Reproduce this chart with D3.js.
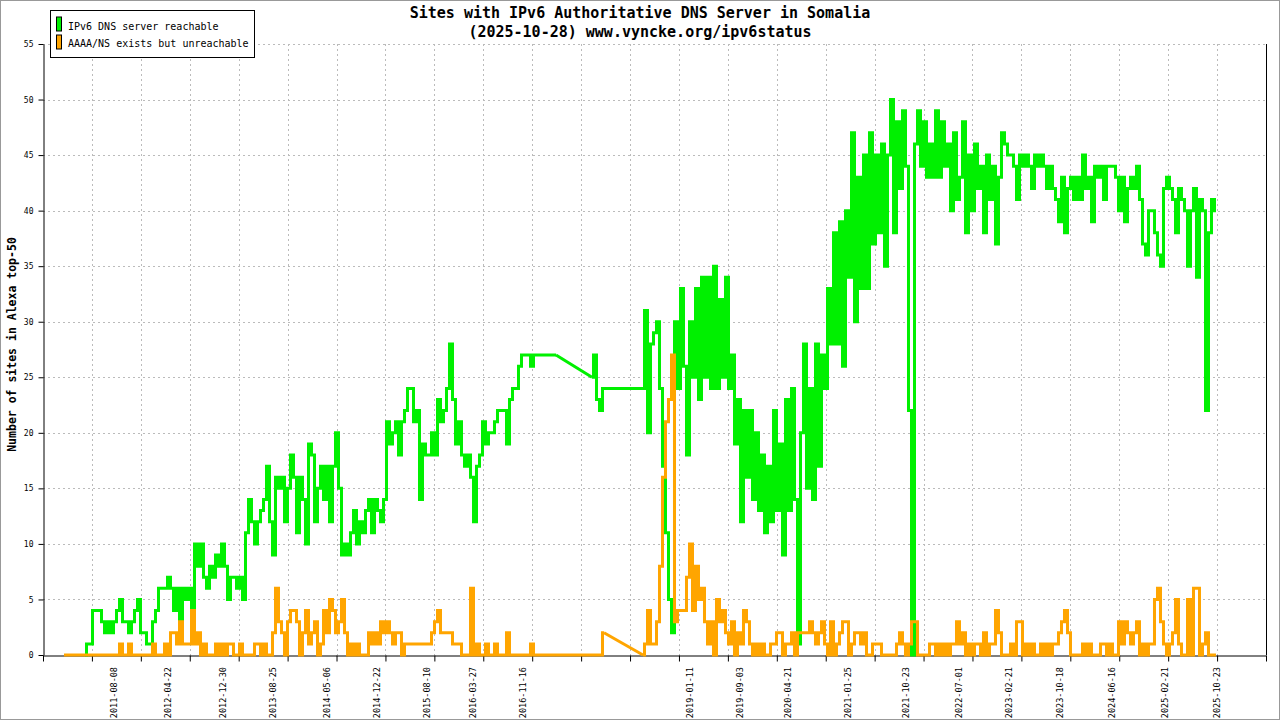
<!DOCTYPE html>
<html>
<head>
<meta charset="utf-8">
<script src="https://cdn.jsdelivr.net/npm/d3@7.9.0/dist/d3.min.js"></script>
<style>
  html, body { margin: 0; padding: 0; background: #fff; }
  svg { display: block; }
  text { font-family: "DejaVu Sans Mono", monospace; fill: #000; }
</style>
</head>
<body>
<svg id="chart" width="1280" height="720"></svg>
<script>
/******************************************************
 * Data (one sample per step, null = no sample -> line joins across)
 ******************************************************/
const titleLines = [
  "Sites with IPv6 Authoritative DNS Server in Somalia",
  "(2025-10-28) www.vyncke.org/ipv6status"
];
const yLabel = "Number of sites in Alexa top-50";
const seriesNames = ["IPv6 DNS server reachable", "AAAA/NS exists but unreachable"];
const seriesColors = ["#00f000", "#ffa500"];

// IPv6 DNS server reachable
const reachable = [
  null,null,null,null,null,null,null,0,1,1,           // 0
  4,4,4,3,2,3,2,3,4,5,                                // 10
  3,3,2,3,4,5,2,2,1,1,                                // 20
  3,4,6,6,6,7,6,4,6,3,                                // 30
  6,5,6,4,10,8,10,7,6,8,                              // 40
  7,9,8,10,8,5,7,7,6,7,                               // 50
  5,11,14,12,10,12,13,14,17,12,                       // 60
  9,16,15,16,12,15,18,16,11,16,                       // 70
  14,10,19,18,12,15,17,14,17,12,                      // 80
  17,20,15,9,10,9,11,13,10,12,                        // 90
  11,13,14,11,14,13,12,14,21,19,                      // 100
  20,21,18,21,22,24,24,21,22,14,                      // 110
  19,18,18,20,18,23,21,22,24,28,                      // 120
  23,19,21,18,17,18,16,12,17,18,                      // 130
  21,19,20,20,21,22,22,22,19,23,                      // 140
  24,24,26,27,27,27,26,27,27,27,                      // 150
  27,27,27,27,27,null,null,null,null,null,            // 160
  null,null,null,null,null,null,25,27,23,22,          // 170
  24,null,null,null,null,null,null,null,null,null,    // 180
  null,null,null,24,31,20,28,29,30,24,                // 190
  17,11,5,2,30,24,33,26,18,30,                        // 200
  25,33,23,34,25,34,24,35,24,32,                      // 210
  25,34,24,27,19,23,12,22,16,22,                      // 220
  14,20,13,18,11,17,12,22,13,19,                      // 230
  9,23,13,24,14,1,20,28,15,24,                        // 240
  14,28,17,27,24,33,28,38,28,39,                      // 250
  26,40,34,47,30,43,33,45,33,47,                      // 260
  37,45,38,46,35,45,50,38,48,42,                      // 270
  49,44,22,0,46,49,44,48,43,46,                       // 280
  43,49,43,48,44,46,40,47,41,43,                      // 290
  48,38,45,40,46,42,44,38,45,41,                      // 300
  44,37,43,47,46,45,45,44,41,45,                      // 310
  44,45,44,42,45,44,45,44,42,44,                      // 320
  42,41,39,43,38,42,43,41,43,41,                      // 330
  45,42,43,39,44,43,44,41,44,44,                      // 340
  44,43,40,43,39,42,43,42,44,41,                      // 350
  37,36,40,40,38,36,35,42,43,42,                      // 360
  41,38,42,41,40,35,40,42,34,41,                      // 370
  40,22,38,41,40                                      // 380
];

// AAAA/NS exists but unreachable
const unreachable = [
  0,0,0,0,0,0,0,0,0,0,                                // 0
  0,0,0,0,0,0,0,0,0,1,                                // 10
  0,0,1,0,0,0,0,0,0,0,                                // 20
  1,0,0,0,1,0,2,2,1,3,                                // 30
  1,1,1,4,1,2,0,1,0,0,                                // 40
  0,1,0,1,0,1,1,0,0,1,                                // 50
  0,0,0,0,1,1,0,1,0,0,                                // 60
  2,6,3,2,0,3,4,4,3,0,                                // 70
  2,4,1,2,3,0,1,4,2,5,                                // 80
  4,2,3,5,2,0,1,0,1,0,                                // 90
  0,0,2,1,2,1,3,2,3,2,                                // 100
  1,2,2,0,1,1,1,1,1,1,                                // 110
  1,1,1,2,3,4,2,2,2,2,                                // 120
  1,1,1,0,0,0,6,0,1,0,                                // 130
  0,1,0,0,1,0,0,0,2,0,                                // 140
  0,0,0,0,0,0,1,0,0,0,                                // 150
  0,0,0,0,0,null,null,null,null,null,                 // 160
  null,null,null,null,null,null,0,0,0,0,              // 170
  2,null,null,null,null,null,null,null,null,null,     // 180
  null,null,null,0,1,4,1,1,3,8,                       // 190
  16,21,23,27,3,4,4,4,7,10,                           // 200
  4,8,5,6,3,1,3,0,5,3,                                // 210
  4,2,1,3,0,2,1,4,3,1,                                // 220
  0,1,0,1,0,0,1,1,2,2,                                // 230
  0,1,1,2,0,2,2,2,2,3,                                // 240
  2,1,2,3,1,0,3,0,1,2,                                // 250
  3,3,0,1,2,2,1,2,0,0,                                // 260
  1,1,1,0,0,0,0,0,1,2,                                // 270
  1,0,1,3,3,0,0,0,0,1,                                // 280
  1,0,1,0,1,0,1,1,3,1,                                // 290
  2,0,1,0,1,1,0,2,0,1,                                // 300
  1,4,2,0,0,0,1,0,3,3,                                // 310
  0,1,0,1,0,0,1,0,1,0,                                // 320
  1,1,2,3,4,2,0,0,0,0,                                // 330
  1,0,1,0,0,0,1,1,0,1,                                // 340
  0,0,3,1,3,2,1,2,3,0,                                // 350
  1,0,1,1,5,6,3,1,0,1,                                // 360
  2,5,1,0,0,5,0,6,6,0,                                // 370
  1,2,0,0,0                                           // 380
];

// date labels and the sample index they sit on
const dateLabels = [
  "2011-08-08","2012-04-22","2012-12-30","2013-08-25","2014-05-06",
  "2014-12-22","2015-08-10","2016-03-27","2016-11-16","2019-01-11",
  "2019-09-03","2020-04-21","2021-01-25","2021-10-23","2022-07-01",
  "2023-02-21","2023-10-18","2024-06-16","2025-02-21","2025-10-23"
];
const dateLabelIndex = [
  16.7, 34.7, 53, 69.7, 87.7,
  104.3, 121, 136.3, 153, 208.7,
  225.3, 241.3, 261.3, 280.7, 298.3,
  315, 332, 349.3, 367, 384.3
];
const yTicks = [0, 5, 10, 15, 20, 25, 30, 35, 40, 45, 50, 55];
const xGridCount = 25;

/******************************************************
 * Layout
 ******************************************************/
const width = 1280, height = 720;
const margin = { top: 44, right: 14, bottom: 65, left: 43 };
const plotRight = width - margin.right;
const plotBottom = height - margin.bottom;

const svg = d3.select("#chart");

svg.append("rect")
  .attr("x", 0.5).attr("y", 0.5)
  .attr("width", width - 1).attr("height", height - 1)
  .attr("fill", "#fff")
  .attr("stroke", "#999");

const xScale = d3.scaleLinear()
  .domain([-7, 400.67])
  .range([margin.left, plotRight]);
const gridScale = d3.scaleLinear()
  .domain([0, xGridCount])
  .range(xScale.range());
const yScale = d3.scaleLinear()
  .domain([0, 55])
  .range([plotBottom, margin.top]);

// grid
const grid = svg.append("g")
  .attr("stroke", "#bbb")
  .attr("stroke-dasharray", "2,3")
  .attr("shape-rendering", "crispEdges");
grid.selectAll("line.hgrid")
  .data(yTicks.filter(d => d > 0))
  .enter()
  .append("line")
  .attr("class", "hgrid")
  .attr("x1", margin.left).attr("x2", plotRight)
  .attr("y1", d => Math.round(yScale(d)) + 0.5)
  .attr("y2", d => Math.round(yScale(d)) + 0.5);
grid.selectAll("line.vgrid")
  .data(d3.range(1, xGridCount))
  .enter()
  .append("line")
  .attr("class", "vgrid")
  .attr("x1", d => Math.round(gridScale(d)) + 0.5)
  .attr("x2", d => Math.round(gridScale(d)) + 0.5)
  .attr("y1", margin.top).attr("y2", plotBottom);

// Y-axis
const yAxis = svg.append("g")
  .attr("transform", `translate(${margin.left + 0.5},0)`)
  .call(d3.axisLeft(yScale).tickValues(yTicks).tickSize(5).tickSizeOuter(0).tickPadding(5));
yAxis.select(".domain").attr("stroke", "#000");
yAxis.selectAll("text").style("font-size", "8px").style("font-family", "DejaVu Sans Mono");

// X-axis: plain ticks, labels placed separately
const xAxis = svg.append("g")
  .attr("transform", `translate(0,${plotBottom + 0.5})`)
  .call(d3.axisBottom(gridScale).tickValues(d3.range(0, xGridCount + 1)).tickFormat("").tickSize(6).tickSizeOuter(0));
xAxis.select(".domain").attr("stroke", "#000");

svg.append("line")
  .attr("x1", plotRight + 0.5).attr("x2", plotRight + 0.5)
  .attr("y1", margin.top).attr("y2", plotBottom)
  .attr("stroke", "#000");

svg.append("g")
  .selectAll("text")
  .data(dateLabels)
  .enter()
  .append("text")
  .attr("transform", (d, i) => `translate(${xScale(dateLabelIndex[i])},${plotBottom + 12}) rotate(-90)`)
  .attr("text-anchor", "end")
  .attr("dy", "0.35em")
  .style("font-size", "8.5px")
  .text(d => d);

/******************************************************
 * Series: dense runs drawn as steps, missing stretches bridged straight
 ******************************************************/
const stepLine = d3.line()
  .x(d => xScale(d.i))
  .y(d => yScale(d.v))
  .curve(d3.curveStep);
const bridgeLine = d3.line()
  .x(d => xScale(d.i))
  .y(d => yScale(d.v));

function splitRuns(values) {
  const runs = [];
  let cur = [];
  values.forEach((v, i) => {
    if (v === null) {
      if (cur.length) runs.push(cur);
      cur = [];
    } else {
      cur.push({ i, v });
    }
  });
  if (cur.length) runs.push(cur);
  return runs;
}

[reachable, unreachable].forEach((values, k) => {
  const runs = splitRuns(values);
  const g = svg.append("g")
    .attr("fill", "none")
    .attr("stroke", seriesColors[k])
    .attr("stroke-width", 3);
  g.selectAll("path.run")
    .data(runs)
    .enter()
    .append("path")
    .attr("class", "run")
    .attr("d", stepLine);
  const bridges = d3.pairs(runs).map(([a, b]) => [a[a.length - 1], b[0]]);
  g.selectAll("path.bridge")
    .data(bridges)
    .enter()
    .append("path")
    .attr("class", "bridge")
    .attr("d", bridgeLine);
});

// title
svg.append("g")
  .selectAll("text")
  .data(titleLines)
  .enter()
  .append("text")
  .attr("x", width / 2)
  .attr("y", (d, i) => 18 + i * 19)
  .attr("text-anchor", "middle")
  .style("font-size", "15px")
  .style("font-weight", "bold")
  .text(d => d);

// y label
svg.append("text")
  .attr("transform", `translate(12,${(margin.top + plotBottom) / 2 - 5}) rotate(-90)`)
  .attr("text-anchor", "middle")
  .attr("dy", "0.35em")
  .style("font-size", "11.5px")
  .style("font-weight", "bold")
  .text(yLabel);

// Legend
const legend = svg.append("g").attr("transform", "translate(50.5,10.5)");
legend.append("rect")
  .attr("width", 204).attr("height", 47)
  .attr("fill", "#fff").attr("stroke", "#000");
seriesNames.forEach((name, k) => {
  legend.append("rect")
    .attr("x", 6).attr("y", 6.5 + k * 18)
    .attr("width", 5).attr("height", 14)
    .attr("fill", seriesColors[k])
    .attr("stroke", "#000");
  legend.append("text")
    .attr("x", 17.5).attr("y", 19.5 + k * 17)
    .style("font-size", "10px")
    .text(name);
});
</script>
</body>
</html>
